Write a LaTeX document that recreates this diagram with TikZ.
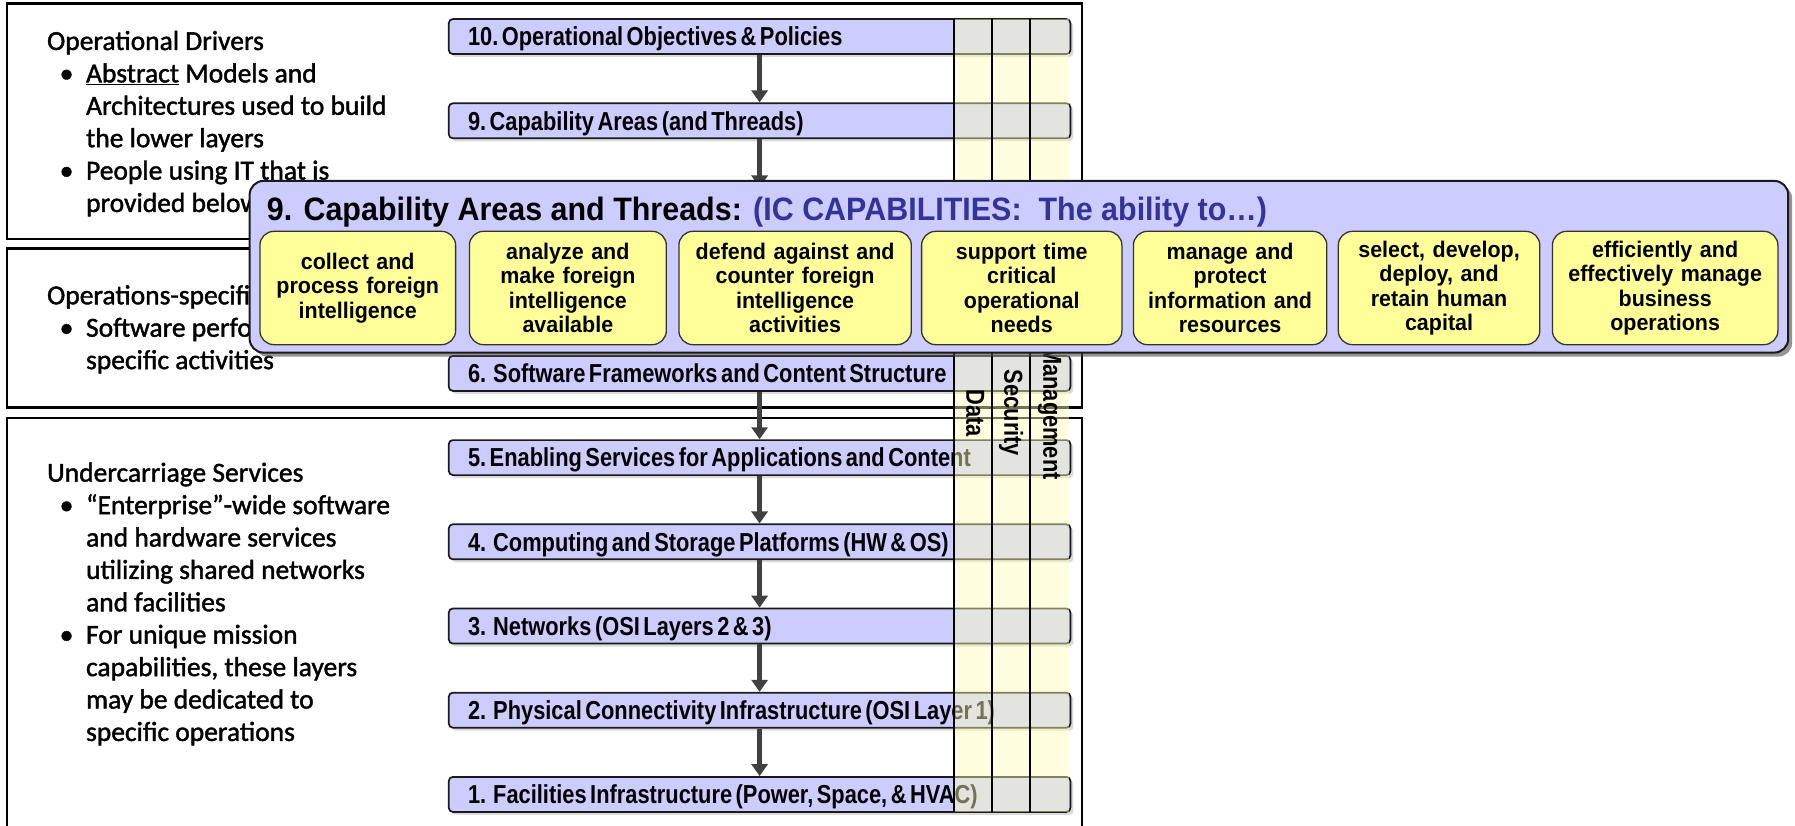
\documentclass[tikz,border=0pt]{standalone}
\usepackage{fontspec}
\setmainfont{Carlito}
\newfontfamily\lftf[FakeBold=1.5]{Carlito}
\newfontfamily\bxf[FakeStretch=0.84]{Liberation Sans}
\newfontfamily\ttlf[FakeStretch=0.94]{Liberation Sans}
\newfontfamily\capf[FakeStretch=0.95]{Liberation Sans}
\usetikzlibrary{arrows.meta,shadows}
\definecolor{layerfill}{HTML}{CCCCFF}
\definecolor{capfill}{HTML}{FFFF99}
\definecolor{colfill}{RGB}{255,255,186}
\definecolor{arrowgray}{HTML}{404040}
\definecolor{titleblue}{HTML}{333399}
\definecolor{edge}{HTML}{1A1A1A}
\newcommand{\blt}{\makebox[39pt][l]{\hspace*{12.6pt}\textbullet}}
\newcommand{\cnt}{\hspace*{39pt}}
\newcommand{\ws}{\hspace{3.5pt}}
\newcommand{\layerfont}{\bxf\bfseries\fontsize{26}{30}\selectfont}
\newcommand{\capfont}{\capf\bfseries\fontsize{22.6}{24.4}\selectfont}
\begin{document}
\begin{tikzpicture}[x=1pt,y=-1pt,
  frame/.style={draw=black, line width=2.4pt},
  lefttext/.style={anchor=base west, inner sep=0pt},
  layer/.style={draw=edge, line width=1.7pt, fill=layerfill, rounded corners=4pt,
    minimum width=621.6pt, minimum height=35pt, text width=583.2pt,
    inner xsep=19.2pt, inner ysep=0pt, align=left, text height=18.6pt, text depth=0pt,
    font=\layerfont,
    drop shadow={shadow xshift=3pt, shadow yshift=-3pt, fill=black!35, opacity=0.4}},
  flow/.style={draw=arrowgray, line width=4.6pt, -{Triangle[width=16pt,length=12pt]}},
  collabel/.style={rotate=-90, inner sep=0pt, text height=18.6pt, text depth=5.5pt,
    font=\bxf\bfseries\fontsize{26}{30}\selectfont},
  colline/.style={draw=black, line width=1.8pt},
  panel/.style={draw=edge, line width=2pt, fill=layerfill, rounded corners=14pt,
    drop shadow={shadow xshift=4pt, shadow yshift=-4pt, fill=black!70, opacity=0.6}},
  capbox/.style={draw=black!80, line width=1.3pt, fill=capfill, rounded corners=14pt,
    minimum height=113.3pt, inner sep=0pt, align=center, font=\capfont}
]
\useasboundingbox (0,0) rectangle (1795,826);

% background panels
\draw[frame] (6.9,3.4) rectangle (1081.8,239.3);
\draw[frame] (6.9,248.4) rectangle (1081.8,407.5);
\draw[frame] (6.9,417.9) rectangle (1081.8,830);

% descriptions on the left
\node[lefttext] (drivers) at (46.9,50) {\begin{minipage}[t]{400pt}\lftf\fontsize{27.5}{32.4}\selectfont
Operational Drivers\\
\blt\underline{Abstract} Models and\\
\cnt Architectures used to build\\
\cnt the lower layers\\
\blt People using IT that is\\
\cnt provided below\end{minipage}};
\node[lefttext] (opspec) at (46.9,304.3) {\begin{minipage}[t]{400pt}\lftf\fontsize{27.5}{32.4}\selectfont
Operations-specific\\
\blt Software performing\\
\cnt specific activities\end{minipage}};
\node[lefttext] (under) at (46.9,481.7) {\begin{minipage}[t]{400pt}\lftf\fontsize{27.5}{32.4}\selectfont
Undercarriage Services\\
\blt “Enterprise”-wide software\\
\cnt and hardware services\\
\cnt utilizing shared networks\\
\cnt and facilities\\
\blt For unique mission\\
\cnt capabilities, these layers\\
\cnt may be dedicated to\\
\cnt specific operations\end{minipage}};

% layer stack
\node[layer] (L10) at (759.6,36.6) {10.\ws Operational\ws Objectives\ws\&\ws Policies};
\node[layer] (L9) at (759.6,120.8) {9.\ws Capability\ws Areas\ws(and\ws Threads)};
\coordinate (L8top) at (759.6,187.5);
\node[layer] (L6) at (759.6,373.4) {6.\ws\ws Software\ws Frameworks\ws and\ws Content\ws Structure};
\node[layer] (L5) at (759.6,457.6) {5.\ws Enabling\ws Services\ws for\ws Applications\ws and\ws Content};
\node[layer] (L4) at (759.6,541.8) {4.\ws\ws Computing\ws and\ws Storage\ws Platforms\ws(HW\ws\&\ws OS)};
\node[layer] (L3) at (759.6,626.0) {3.\ws\ws Networks\ws(OSI\ws Layers\ws 2\ws\&\ws 3)};
\node[layer] (L2) at (759.6,710.2) {2.\ws\ws Physical\ws Connectivity\ws Infrastructure\ws(OSI\ws Layer\ws 1)};
\node[layer] (L1) at (759.6,794.4) {1.\ws\ws Facilities\ws Infrastructure\ws(Power,\ws Space,\ws\&\ws HVAC)};

\draw[flow] (L10) -- (L9);
\draw[flow] (L9) -- (L8top);
\draw[flow] (L6) -- (L5);
\draw[flow] (L5) -- (L4);
\draw[flow] (L4) -- (L3);
\draw[flow] (L3) -- (L2);
\draw[flow] (L2) -- (L1);

% cross-cutting columns laid over the layers
\coordinate (ctop) at (954,19.1);
\coordinate (cbot) at (1069.4,811.9);
\fill[colfill, opacity=0.45] (ctop) rectangle (cbot);
\foreach \cx in {954,992,1030}
  \draw[colline] (\cx,19.1) -- (\cx,811.9);
\node[collabel] (data) at (973,413) {Data};
\node[collabel] (sec) at (1011,413) {Security};
\node[collabel] (mgmt) at (1050,413) {Management};

% capability callout
\node[panel, minimum width=1538.6pt, minimum height=171.7pt] (callout) at (1018.9,266.75) {};
\node[anchor=base west, inner sep=0pt, font=\ttlf\bfseries\fontsize{32.4}{36}\selectfont] (title) at (266.7,221)
  {9. Capability Areas and Threads: \textcolor{titleblue}{(IC CAPABILITIES:\ \ The ability to…)}};
\node[capbox, minimum width=195.7pt, text width=185pt] (c1) at (357.75,288) {collect and\\process foreign\\intelligence};
\node[capbox, minimum width=196.9pt, text width=186pt] (c2) at (567.85,288) {analyze and\\make foreign\\intelligence\\available};
\node[capbox, minimum width=232.4pt, text width=222pt] (c3) at (795.1,288) {defend against and\\counter foreign\\intelligence\\activities};
\node[capbox, minimum width=200.3pt, text width=190pt] (c4) at (1021.75,288) {support time\\critical\\operational\\needs};
\node[capbox, minimum width=193.4pt, text width=183pt] (c5) at (1230.1,288) {manage and\\protect\\information and\\resources};
\node[capbox, minimum width=201.5pt, text width=191pt] (c6) at (1439.05,288) {select, develop,\\deploy, and\\retain human\\capital};
\node[capbox, minimum width=225.5pt, text width=215pt] (c7) at (1665.15,288) {efficiently and\\effectively manage\\business\\operations};
\end{tikzpicture}
\end{document}
